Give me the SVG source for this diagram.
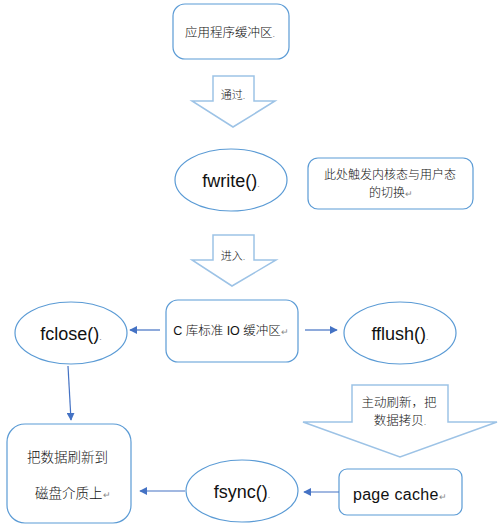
<svg xmlns="http://www.w3.org/2000/svg" width="502" height="532" viewBox="0 0 502 532">
<defs>
<style>
.box{fill:#fff;stroke:#5B9BD5;stroke-width:1.2}
.blk{fill:#fff;stroke:#9DC3E6;stroke-width:1.5}
.t{font-family:"Liberation Sans","Noto Sans CJK SC",sans-serif;font-weight:300;fill:#111;text-anchor:middle}
.l{font-family:"Liberation Sans","Noto Sans CJK SC",sans-serif;font-weight:300;fill:#111}
.fn{font-size:18px}
.m{fill:#888;font-size:9px}
.con{stroke:#4472C4;stroke-width:1.2;fill:none;marker-end:url(#ah)}
</style>
<marker id="ah" viewBox="0 0 10 10" refX="9" refY="5" markerWidth="8" markerHeight="8" markerUnits="userSpaceOnUse" orient="auto">
<path d="M0,0 L10,5 L0,10 z" fill="#4472C4"/>
</marker>
</defs>
<rect width="502" height="532" fill="#fff"/>

<g id="app-buffer">
<rect class="box" x="173" y="4" width="116" height="55" rx="12"/>
<text class="t" x="230" y="37" font-size="12.5">应用程序缓冲区<tspan class="m">.</tspan></text>
</g>

<g id="arrow-tongguo">
<polygon class="blk" points="213,76 254,76 254,101 275,101 233,127 192,101 213,101"/>
<text class="t" x="233" y="99" font-size="11">通过<tspan class="m">.</tspan></text>
</g>

<g id="fwrite">
<ellipse class="box" cx="231" cy="180" rx="56" ry="31"/>
<text class="t fn" x="231" y="187">fwrite()<tspan class="m">.</tspan></text>
</g>

<g id="note">
<rect class="box" x="308" y="158" width="165" height="51" rx="10"/>
<text class="t" x="390" y="179" font-size="12">此处触发内核态与用户态</text>
<text class="t" x="391" y="197" font-size="12">的切换<tspan class="m">↵</tspan></text>
</g>

<g id="arrow-jinru">
<polygon class="blk" points="213,235 254,235 254,260 276,260 232,286 192,260 213,260"/>
<text class="t" x="233" y="260" font-size="11">进入<tspan class="m">.</tspan></text>
</g>

<g id="fclose">
<ellipse class="box" cx="71" cy="333" rx="56" ry="31"/>
<text class="t fn" x="71" y="340">fclose()<tspan class="m">.</tspan></text>
</g>

<g id="c-buffer">
<rect class="box" x="166" y="300" width="132" height="62" rx="12"/>
<text class="t" x="231" y="335" font-size="12.5">C 库标准 IO 缓冲区<tspan class="m">↵</tspan></text>
</g>

<g id="fflush">
<ellipse class="box" cx="400" cy="333" rx="56" ry="31"/>
<text class="t fn" x="400" y="340">fflush()<tspan class="m">.</tspan></text>
</g>

<g id="arrow-flush">
<polygon class="blk" points="352,385 448,385 448,422 497,422 400,457 303,422 352,422"/>
<text class="t" x="399" y="407" font-size="12.5">主动刷新，把</text>
<text class="t" x="400" y="425" font-size="12.5">数据拷贝<tspan class="m">.</tspan></text>
</g>

<g id="disk">
<rect class="box" x="7" y="424" width="124" height="99" rx="18"/>
<text class="l" x="27" y="462" font-size="13.5">把数据刷新到</text>
<text class="l" x="35" y="498" font-size="13.5">磁盘介质上<tspan class="m">↵</tspan></text>
</g>

<g id="fsync">
<ellipse class="box" cx="242" cy="491" rx="56" ry="31"/>
<text class="t fn" x="242" y="498">fsync()<tspan class="m">.</tspan></text>
</g>

<g id="page-cache">
<rect class="box" x="339" y="469" width="123" height="46" rx="8"/>
<text class="t" x="400" y="500" font-size="16" letter-spacing="0.3">page cache<tspan class="m">↵</tspan></text>
</g>

<g id="connectors">
<line class="con" x1="160" y1="330" x2="130" y2="330"/>
<line class="con" x1="305" y1="330" x2="337" y2="330"/>
<line class="con" x1="68" y1="366" x2="71" y2="420"/>
<line class="con" x1="339" y1="492" x2="304" y2="492"/>
<line class="con" x1="185" y1="491" x2="140" y2="491"/>
</g>
</svg>
